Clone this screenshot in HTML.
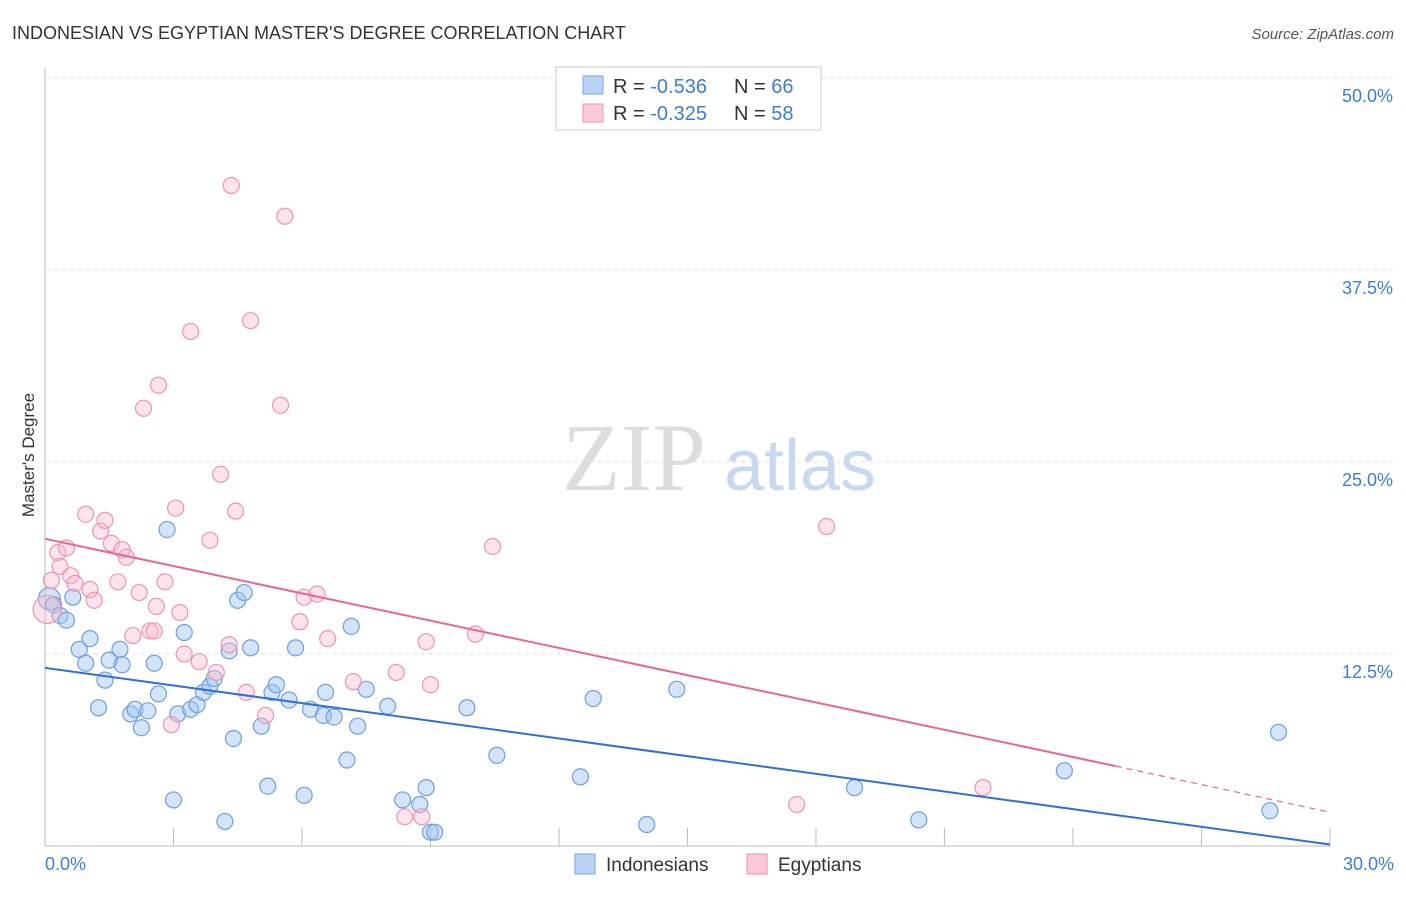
<!DOCTYPE html>
<html><head><meta charset="utf-8"><style>
body{margin:0;background:#fff;font-family:"Liberation Sans",sans-serif;}
svg text{font-family:"Liberation Sans",sans-serif;}
</style></head><body>
<svg id="chart" width="1406" height="892" xmlns="http://www.w3.org/2000/svg">
<text x="12" y="39" font-size="18" fill="#333">INDONESIAN VS EGYPTIAN MASTER'S DEGREE CORRELATION CHART</text>
<text x="1394" y="39" font-size="15" fill="#555" text-anchor="end" font-style="italic">Source: ZipAtlas.com</text>
<text x="34" y="455" font-size="17" fill="#333" text-anchor="middle" transform="rotate(-90 34 455)">Master's Degree</text>
<g><text x="634" y="490" font-size="96" fill="#ddd" text-anchor="middle" font-family="Liberation Serif" style="font-family:'Liberation Serif',serif">ZIP</text><text x="800" y="490" font-size="72" fill="#c8d8f0" text-anchor="middle">atlas</text></g>
<g id="grid"></g><g id="pts"></g><g id="lines"></g>
<g>
<rect x="556" y="67" width="265" height="63" fill="#fff" stroke="#ccc"/>
<rect x="583" y="76" width="20" height="18" fill="#b8d3f5" stroke="#7aa6e6"/>
<rect x="583" y="104" width="20" height="18" fill="#fbc9d8" stroke="#f08fb0"/>
<text x="613" y="93" font-size="20" fill="#333">R = <tspan fill="#3b7dd8">-0.536</tspan></text>
<text x="734" y="93" font-size="20" fill="#333">N = <tspan fill="#3b7dd8">66</tspan></text>
<text x="613" y="120" font-size="20" fill="#333">R = <tspan fill="#3b7dd8">-0.325</tspan></text>
<text x="734" y="120" font-size="20" fill="#333">N = <tspan fill="#3b7dd8">58</tspan></text>
</g>
<g>
<rect x="575" y="854" width="20" height="20" fill="#b8d3f5" stroke="#7aa6e6"/>
<text x="606" y="871" font-size="19" fill="#333">Indonesians</text>
<rect x="747" y="854" width="20" height="20" fill="#fbc9d8" stroke="#f08fb0"/>
<text x="778" y="871" font-size="19" fill="#333">Egyptians</text>
</g>
</svg>
<script>
const xTicks=[0,30];
const yTicks=[12.5,25,37.5,50];
const blueX=[0.1,0.2,0.35,0.5,0.65,0.8,0.95,1.05,1.25,1.4,1.5,1.75,1.8,2.0,2.1,2.25,2.4,2.55,2.65,2.85,3.0,3.1,3.25,3.4,3.55,3.7,3.85,3.95,4.2,4.3,4.4,4.5,4.65,4.8,5.05,5.2,5.3,5.4,5.7,5.85,6.05,6.2,6.5,6.55,6.75,7.15,7.05,7.3,7.5,8.0,8.35,8.75,8.9,9.0,9.1,9.85,10.55,12.5,12.8,14.05,14.75,18.9,20.4,23.8,28.6,28.8];
const blueY=[16.1,15.7,15.0,14.7,16.2,12.8,11.9,13.5,9.0,10.8,12.1,12.8,11.8,8.6,8.9,7.7,8.8,11.9,9.9,20.6,3.0,8.6,13.9,8.9,9.2,10.0,10.4,10.9,1.6,12.7,7.0,16.0,16.5,12.9,7.8,3.9,10.0,10.5,9.5,12.9,3.3,8.9,8.5,10.0,8.4,14.3,5.6,7.8,10.2,9.1,3.0,2.7,3.8,0.9,0.9,9.0,5.9,4.5,9.6,1.4,10.2,3.8,1.7,4.9,2.3,7.4];
const pinkX=[0.05,0.15,0.3,0.35,0.5,0.6,0.7,0.95,1.05,1.15,1.3,1.4,1.55,1.7,1.8,1.9,2.05,2.2,2.3,2.45,2.55,2.6,2.65,2.8,2.95,3.05,3.15,3.25,3.4,3.6,3.85,4.0,4.1,4.3,4.35,4.45,4.7,4.8,5.15,5.5,5.6,5.95,6.05,6.35,6.6,7.2,8.2,8.4,8.8,8.9,9.0,10.05,10.45,17.55,18.25,21.9];
const pinkY=[15.4,17.3,19.1,18.2,19.4,17.6,17.1,21.6,16.7,16.0,20.5,21.2,19.7,17.2,19.3,18.8,13.7,16.5,28.5,14.0,14.0,15.6,30.0,17.2,7.9,22.0,15.2,12.5,33.5,12.0,19.9,11.3,24.2,13.1,43.0,21.8,10.0,34.2,8.5,28.7,41.0,14.6,16.2,16.4,13.5,10.7,11.3,1.9,1.9,13.3,10.5,13.8,19.5,2.7,20.8,3.8];
const blueLine=[11.6,0.1];
const pinkLine=[20.0,5.2,2.2];
const pinkSolidEnd=25;
const X=v=>45+v*42.83, Y=v=>846-v*15.36;
const NS='http://www.w3.org/2000/svg';
function mk(t,a,p){const e=document.createElementNS(NS,t);for(const k in a)e.setAttribute(k,a[k]);p.appendChild(e);return e;}
const grid=document.getElementById('grid');
yTicks.forEach(t=>{
 const l=mk('line',{x1:45,x2:1394,y1:Y(t),y2:Y(t),stroke:'#ddd','stroke-dasharray':'4,4'},grid);
 
 
 const tx=mk('text',{x:1393,y:Y(t)+24,'font-size':18,fill:'#3b7dd8','text-anchor':'end'},grid);
 tx.textContent=t.toFixed(1)+'%';
 
 
});
const ax=mk('line',{x1:45,x2:1330,y1:846,y2:846,stroke:'#bbb'},grid);


const ay=mk('line',{x1:45,x2:45,y1:68,y2:846,stroke:'#bbb'},grid);


for(let i=1;i<=10;i++){const tk=mk('line',{x1:X(i*3),x2:X(i*3),y1:828,y2:846,stroke:'#bbb'},grid);
 
 }
xTicks.forEach((t,i)=>{const tx=mk('text',{x:i?1394:45,y:870,'font-size':18,fill:'#3b7dd8','text-anchor':i?'end':'start'},grid);
 tx.textContent=t.toFixed(1)+'%';
 
 });
const pts=document.getElementById('pts');
blueX.forEach((x,i)=>{const c=mk('circle',{cx:X(x),cy:Y(blueY[i]),r:i==0?11:8,fill:'rgba(160,195,240,0.45)',stroke:'#6d9ee0','stroke-width':1.2},pts);
 
 });
pinkX.forEach((x,i)=>{const c=mk('circle',{cx:X(x),cy:Y(pinkY[i]),r:i==0?14:8,fill:'rgba(250,185,205,0.4)',stroke:'#ee93b3','stroke-width':1.2},pts);
 
 });
const lines=document.getElementById('lines');
const bl=mk('line',{x1:X(0),y1:Y(blueLine[0]),x2:X(30),y2:Y(blueLine[1]),stroke:'#2f6fd6','stroke-width':2},lines);


const pl=mk('line',{x1:X(0),y1:Y(pinkLine[0]),x2:X(pinkSolidEnd),y2:Y(pinkLine[1]),stroke:'#e8668f','stroke-width':2},lines);


const pd=mk('line',{x1:X(pinkSolidEnd),y1:Y(pinkLine[1]),x2:X(30),y2:Y(pinkLine[2]),stroke:'#e8668f','stroke-width':1.2,'stroke-dasharray':'6,5'},lines);


</script>
</body></html>
